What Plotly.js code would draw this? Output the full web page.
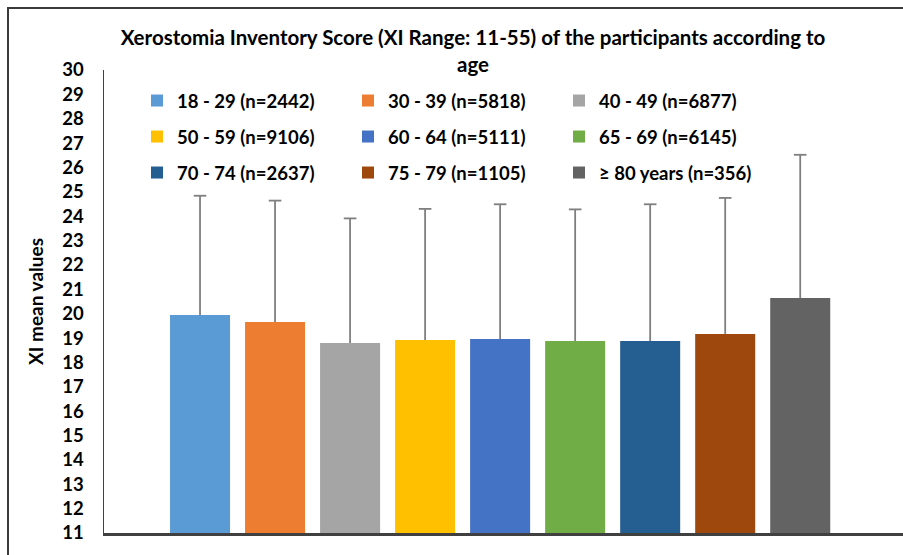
<!DOCTYPE html>
<html>
<head>
<meta charset="utf-8">
<script src="https://cdn.plot.ly/plotly-3.0.1.min.js"></script>
<style>
  html, body { margin: 0; padding: 0; background: #fff; }
  #chart { width: 903px; height: 555px; }
  #frame { position: absolute; left: 7px; top: 7px; width: 2000px; height: 2000px;
           border-top: 2px solid #3a3a3a; border-left: 2px solid #3a3a3a; pointer-events: none; }
</style>
</head>
<body>
<div id="chart"></div>
<div id="frame"></div>
<script>
// ---- data ----
const categories = ['18 - 29', '30 - 39', '40 - 49', '50 - 59', '60 - 64', '65 - 69', '70 - 74', '75 - 79', '≥ 80 years'];
const sampleSizes = [2442, 5818, 6877, 9106, 5111, 6145, 2637, 1105, 356];
const meanXI = [19.95, 19.66, 18.80, 18.92, 18.96, 18.88, 18.88, 19.17, 20.64];
const sdXI = [4.89, 4.98, 5.11, 5.38, 5.53, 5.40, 5.61, 5.58, 5.88];
const colors = ['#5B9BD5', '#ED7D31', '#A5A5A5', '#FFC000', '#4472C4', '#70AD47', '#255E91', '#9E480E', '#636363'];
const yTicks = [11,12,13,14,15,16,17,18,19,20,21,22,23,24,25,26,27,28,29,30];

const FONT = 'Lato, "Liberation Sans", sans-serif';
const legendNames = ['legend', 'legend2', 'legend3'];
const ERR_COLOR = '#7f7f7f';

const traces = categories.map((c, i) => ({
  type: 'bar',
  x: [c],
  y: [meanXI[i]],
  name: c + ' (n=' + sampleSizes[i] + ')',
  width: 0.8,
  marker: { color: colors[i], line: { width: 0 } },
  legend: legendNames[Math.floor(i / 3)],
  hoverinfo: 'y+name'
}));

// upper-only error bars: stem from mean to mean+SD, cap at the top
const stemX = [], stemY = [];
categories.forEach((c, i) => {
  stemX.push(c, c, null);
  stemY.push(meanXI[i], meanXI[i] + sdXI[i], null);
});
traces.push({
  type: 'scatter', mode: 'lines', x: stemX, y: stemY,
  line: { color: ERR_COLOR, width: 1.8 }, showlegend: false, hoverinfo: 'skip', connectgaps: false
});
traces.push({
  type: 'scatter', mode: 'markers', x: categories, y: meanXI.map((m, i) => m + sdXI[i]),
  marker: { symbol: 'line-ew', size: 9, line: { color: ERR_COLOR, width: 1.8 } },
  showlegend: false, hoverinfo: 'skip'
});

function legendRow(yPix) {
  return {
    orientation: 'h',
    xref: 'container', yref: 'container',
    x: 137 / 903, xanchor: 'left',
    y: 1 - yPix / 555, yanchor: 'middle',
    entrywidth: 166, entrywidthmode: 'pixels',
    bgcolor: 'rgba(0,0,0,0)',
    font: { family: FONT, size: 18.5, weight: 700, color: '#000' },
    traceorder: 'normal'
  };
}

const layout = {
  width: 903, height: 555,
  margin: { l: 104, r: 0, t: 70, b: 22, autoexpand: false },
  paper_bgcolor: '#fff', plot_bgcolor: '#fff',
  barmode: 'overlay',
  showlegend: true,
  title: {
    text: 'Xerostomia Inventory Score (XI Range: 11-55) of the participants according to<br>age',
    font: { family: FONT, size: 20.5, weight: 700, color: '#000' },
    x: 473 / 903, xanchor: 'center', xref: 'container',
    y: 1 - 45 / 555, yanchor: 'top', yref: 'container'
  },
  xaxis: {
    type: 'category',
    categoryorder: 'array', categoryarray: categories,
    range: [-1.28, 9.37],
    showticklabels: false, ticks: '', showgrid: false, zeroline: false,
    showline: true, linecolor: '#404040', linewidth: 3,
    fixedrange: true
  },
  yaxis: {
    range: [11, 30],
    tickmode: 'array', tickvals: yTicks, ticktext: yTicks.map(String),
    tickfont: { family: FONT, size: 18.5, weight: 700, color: '#000' },
    ticks: 'outside', ticklen: 15, tickcolor: 'rgba(0,0,0,0)',
    showgrid: false, zeroline: false,
    showline: true, linecolor: '#404040', linewidth: 1.5,
    title: { text: 'XI mean values', font: { family: FONT, size: 19, weight: 700, color: '#000' }, standoff: 13 },
    fixedrange: true
  },
  legend: legendRow(101),
  legend2: legendRow(137),
  legend3: legendRow(173)
};

Plotly.newPlot('chart', traces, layout, { displayModeBar: false, staticPlot: true });
</script>
</body>
</html>
